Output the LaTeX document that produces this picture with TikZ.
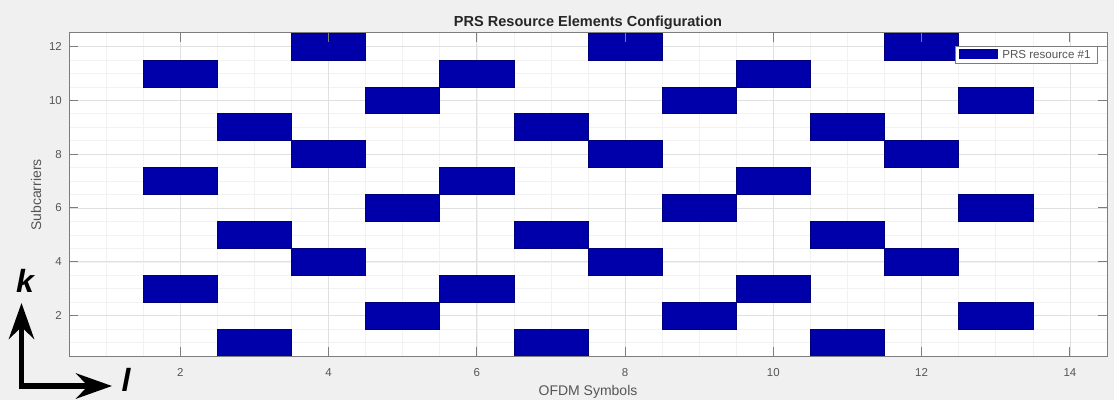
\documentclass[tikz,border=0pt]{standalone}
\usepackage{fontspec}
\setmainfont{Liberation Sans}
\usetikzlibrary{arrows.meta}

\definecolor{figbg}{RGB}{240,240,240}
\definecolor{prsblue}{RGB}{0,0,170}
\definecolor{prsedge}{RGB}{0,0,120}
\definecolor{axisgray}{RGB}{125,125,125}
\definecolor{majorgrid}{RGB}{224,224,224}
\definecolor{minorgrid}{RGB}{242,242,242}
\definecolor{labelgray}{RGB}{85,85,85}
\definecolor{titlegray}{RGB}{38,38,38}

\tikzset{
  resel/.style={fill=prsblue, draw=prsedge, line width=0.4pt},
  axisline/.style={draw=axisgray, line width=0.7pt},
  ticklabel/.style={font=\fontsize{8.6}{10}\selectfont, text=labelgray, inner sep=0pt},
  axlabel/.style={font=\fontsize{10.5}{12}\selectfont, text=labelgray, inner sep=0pt},
  dirlabel/.style={font=\fontsize{24}{26}\selectfont\bfseries\itshape, text=black, inner sep=0pt},
  dirarrow/.style={line width=3.8pt, {Stealth[length=27pt,width=19pt,inset=9pt]}-{Stealth[length=27pt,width=19pt,inset=9pt]}}
}

\begin{document}
\begin{tikzpicture}[x=0.75pt,y=-0.75pt]
  % figure background
  \fill[figbg] (0,0) rectangle (1114,400);
  \useasboundingbox (0,0) rectangle (1114,400);

  % axes area
  \fill[white] (69,33) rectangle (1107,356);

  \begin{scope}[shift={(31.93,369.46)}, x=55.605pt, y=20.19pt]
    % minor grid
    \foreach \u in {1,1.5,...,14} \draw[minorgrid, line width=0.4pt] (\u,0.5) -- (\u,12.5);
    \foreach \v in {1,1.5,...,12} \draw[minorgrid, line width=0.4pt] (0.5,\v) -- (14.5,\v);
    % major grid
    \foreach \u in {2,4,...,14} \draw[majorgrid, line width=0.5pt] (\u,0.5) -- (\u,12.5);
    \foreach \v in {2,4,...,12} \draw[majorgrid, line width=0.5pt] (0.5,\v) -- (14.5,\v);

    % PRS resource elements (symbol / subcarrier)
    \foreach \c/\r in {4/12,8/12,12/12,
                       2/11,6/11,10/11,
                       5/10,9/10,13/10,
                       3/9,7/9,11/9,
                       4/8,8/8,12/8,
                       2/7,6/7,10/7,
                       5/6,9/6,13/6,
                       3/5,7/5,11/5,
                       4/4,8/4,12/4,
                       2/3,6/3,10/3,
                       5/2,9/2,13/2,
                       3/1,7/1,11/1}
      \path[resel] (\c-0.5,\r-0.5) rectangle (\c+0.5,\r+0.5);

    % axes box and ticks
    \path[axisline] (0.5,0.5) rectangle (14.5,12.5);
    \foreach \u in {2,4,...,14} {
      \draw[axisline] (\u,0.5) -- (\u,0.834);
      \draw[axisline] (\u,12.5) -- (\u,12.166);
      \node[ticklabel, anchor=base] (xt\u) at (\u,-0.243) {\u};
    }
    \foreach \v in {2,4,...,12} {
      \draw[axisline] (0.5,\v) -- (0.625,\v);
      \draw[axisline] (14.5,\v) -- (14.375,\v);
      \node[ticklabel, anchor=east] (yt\v) at (0.406,\v) {\v};
    }
  \end{scope}

  % title and axis labels
  \node[font=\fontsize{10.9}{12}\selectfont\bfseries, text=titlegray, inner sep=0pt, anchor=base]
    (title) at (588,26) {PRS Resource Elements Configuration};
  \node[axlabel, anchor=base] (xlabel) at (588,395.5) {OFDM Symbols};
  \node[axlabel, rotate=90] (ylabel) at (36,195) {Subcarriers};

  % legend
  \node[draw=axisgray, fill=white, line width=0.6pt, minimum width=106.5pt, minimum height=12.75pt,
        inner sep=0pt, anchor=north west] (legend) at (955,46) {};
  \fill[prsblue] (959,49) rectangle (998,59);
  \node[font=\fontsize{8.7}{10}\selectfont, text=labelgray, inner sep=0pt, anchor=west]
    (legtext) at (1002,54.5) {PRS resource \#1};

  % resource grid directions
  \coordinate (ktip) at (21.5,303);
  \coordinate (ltip) at (112,386);
  \draw[dirarrow] (ktip) |- (ltip);
  \node[dirlabel] (klabel) at (25,281) {k};
  \node[dirlabel] (llabel) at (126,380) {l};
\end{tikzpicture}
\end{document}
